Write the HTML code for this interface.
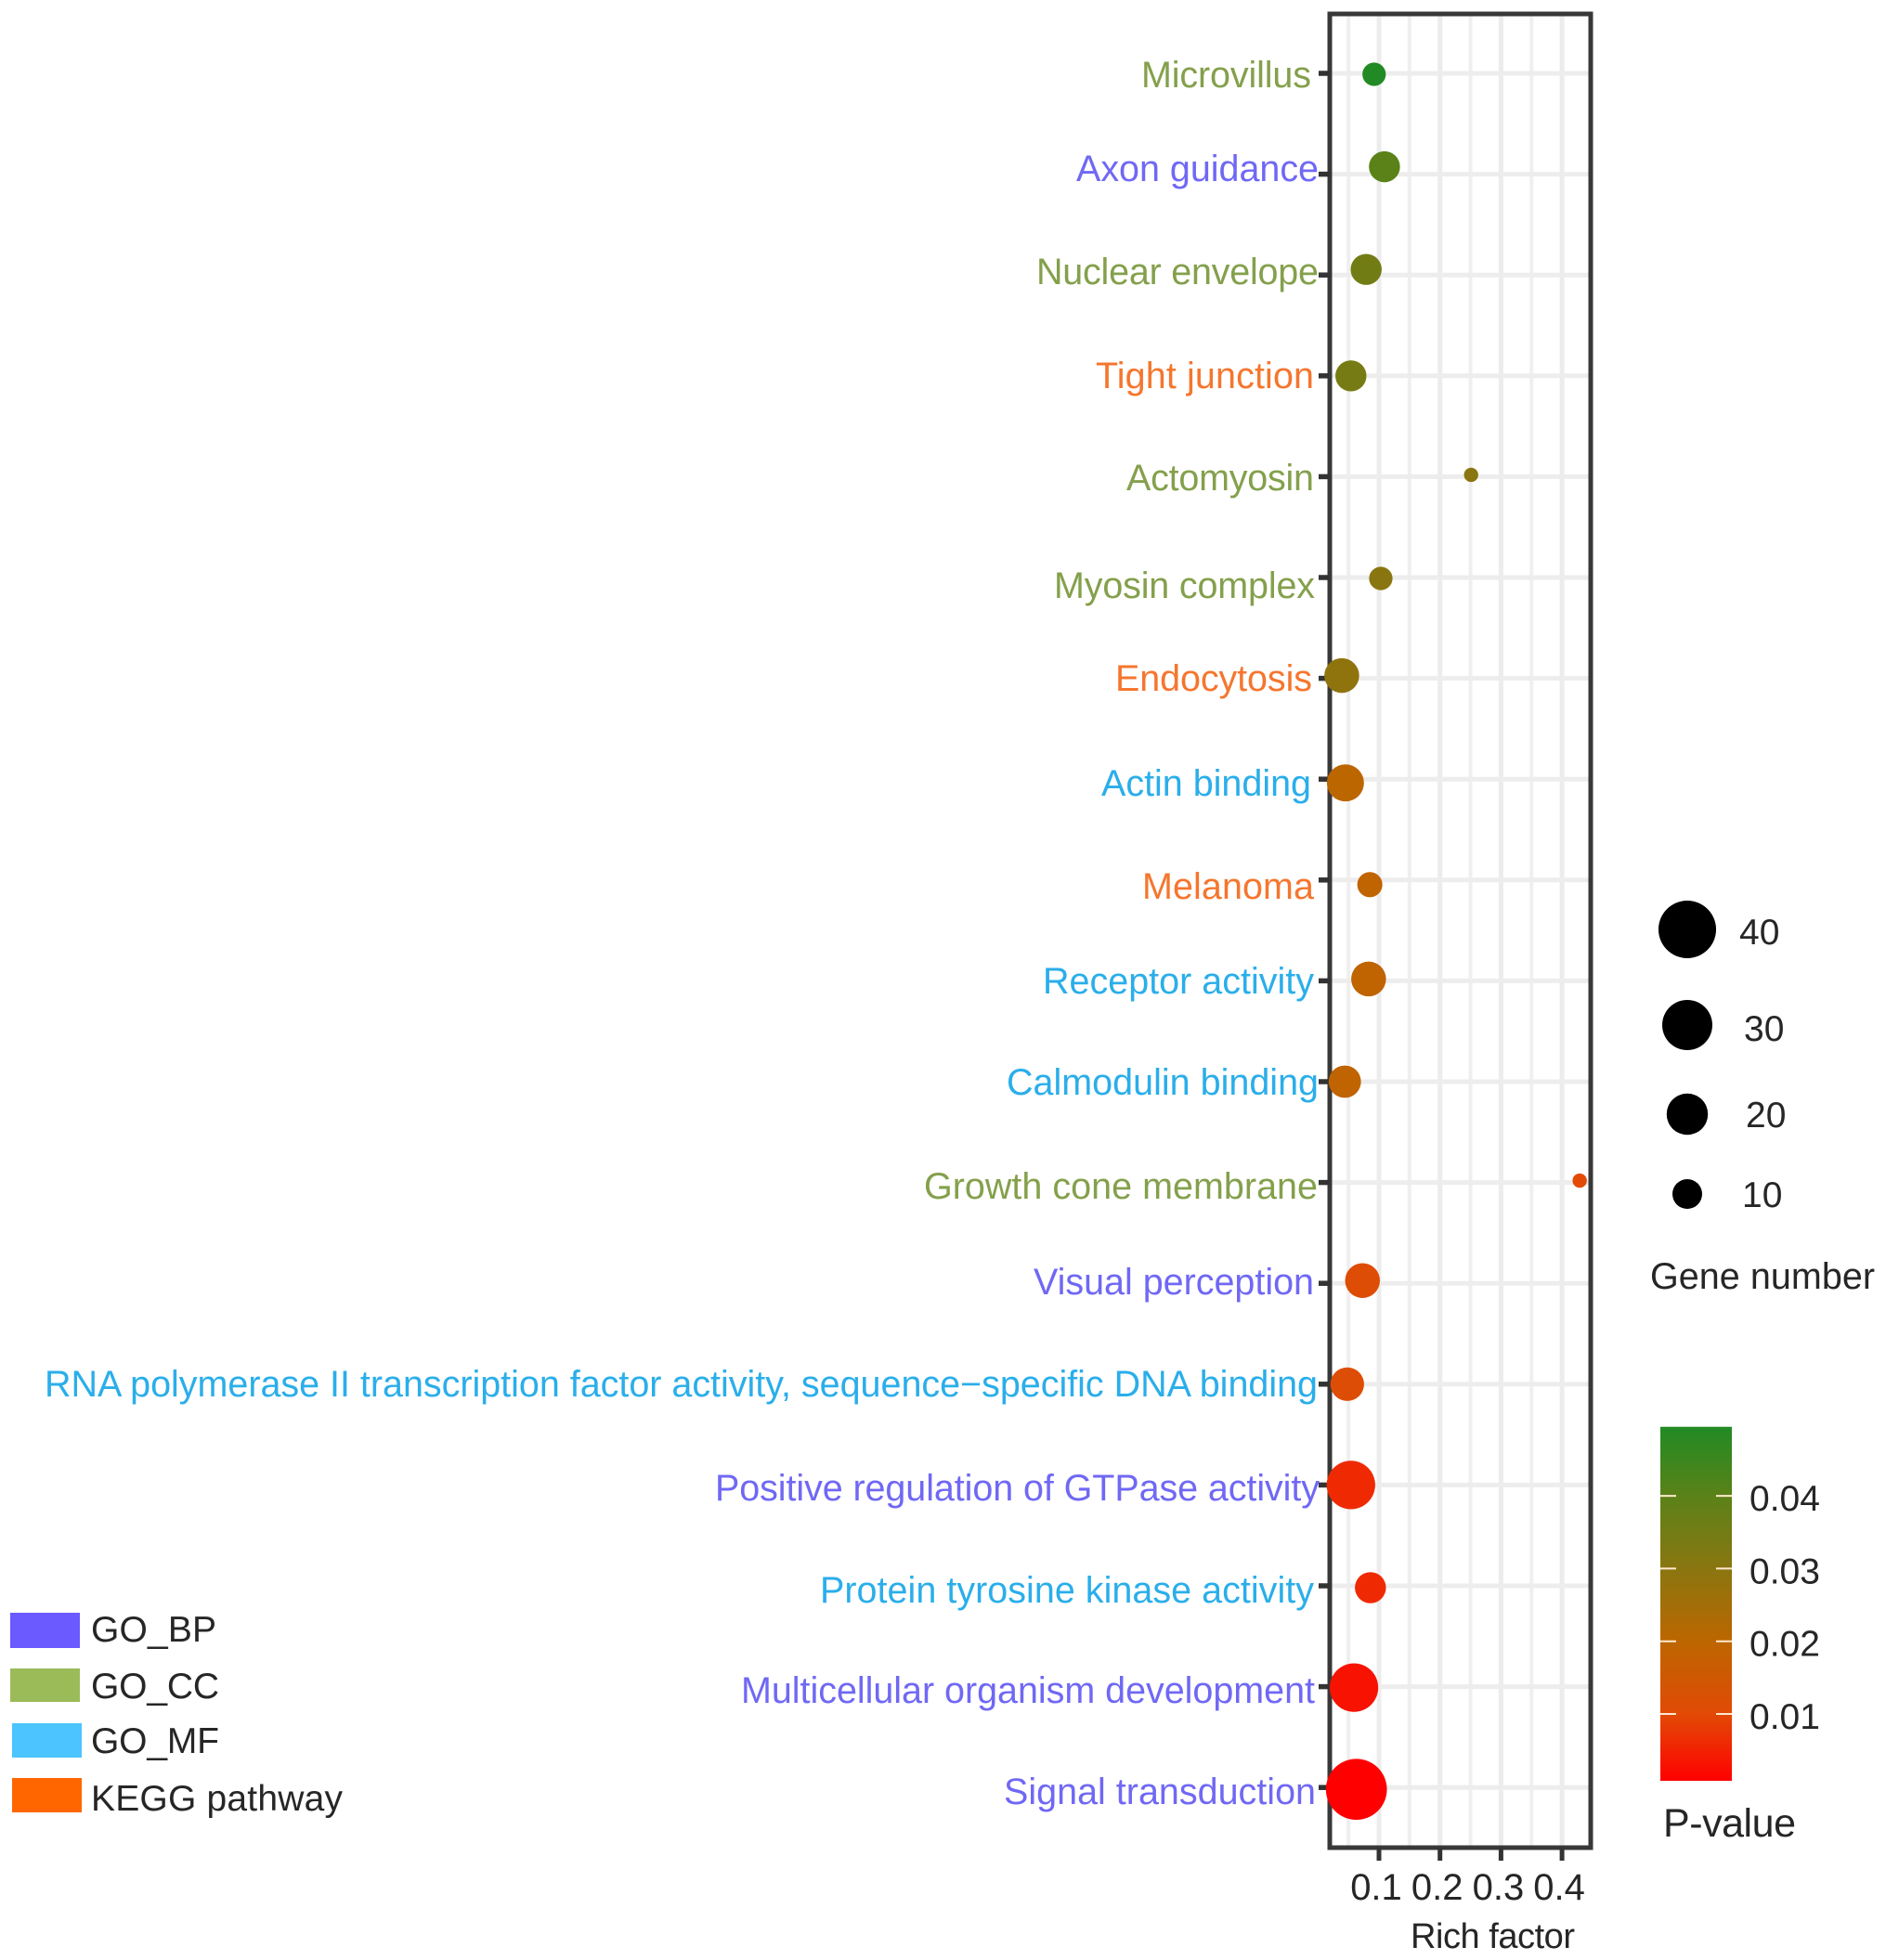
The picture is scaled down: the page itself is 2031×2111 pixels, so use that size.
<!DOCTYPE html>
<html lang="en">
<head>
<meta charset="utf-8">
<title>Rich factor bubble chart</title>
<style>
html,body{margin:0;padding:0;background:#fff;width:2031px;height:2111px;overflow:hidden}
svg{display:block}
text{font-family:"Liberation Sans",sans-serif;fill:#262626}
</style>
</head>
<body>
<svg id="chart" xmlns="http://www.w3.org/2000/svg" width="2031" height="2111" viewBox="0 0 2031 2111">
  <defs>
    <linearGradient id="pvalue-gradient" x1="0" y1="1" x2="0" y2="0"></linearGradient>
  </defs>
  <g id="grid"></g>
  <g id="axes"></g>
  <g id="points"></g>
  <g id="size-legend"></g>
  <g id="color-legend"></g>
  <g id="category-legend"></g>
</svg>
<script>
// ---- chart data ----
const categories = ["Microvillus","Axon guidance","Nuclear envelope","Tight junction","Actomyosin","Myosin complex","Endocytosis","Actin binding","Melanoma","Receptor activity","Calmodulin binding","Growth cone membrane","Visual perception","RNA polymerase II transcription factor activity, sequence\u2212specific DNA binding","Positive regulation of GTPase activity","Protein tyrosine kinase activity","Multicellular organism development","Signal transduction"];
const categoryGroups = ["GO_CC","GO_BP","GO_CC","KEGG pathway","GO_CC","GO_CC","KEGG pathway","GO_MF","KEGG pathway","GO_MF","GO_MF","GO_CC","GO_BP","GO_MF","GO_BP","GO_MF","GO_BP","GO_BP"];
const richFactor = [0.092,0.109,0.079,0.054,0.251,0.103,0.039,0.045,0.085,0.083,0.044,0.429,0.073,0.048,0.054,0.086,0.059,0.063];
const geneNumber = [6,11,11,11,2,6,14,16,7,14,12,2,14,13,28,11,28,45];
const pValue = [0.0495,0.04,0.035,0.034,0.03,0.03,0.029,0.02,0.019,0.019,0.019,0.01,0.011,0.011,0.006,0.006,0.003,0.0008];
const xTicks = [0.1,0.2,0.3,0.4];
const xMinorTicks = [0.05,0.15,0.25,0.35,0.45];
const sizeLegendValues = [40,30,20,10];
const pTicks = [0.04,0.03,0.02,0.01];
const pGradientValues = [0.0008,0.01,0.02,0.03,0.04,0.0495];
const pGradientColors = ["#ff0000","#e24a05","#bc6600","#8a7610","#5a8218","#218a24"];
const groupNames = ["GO_BP","GO_CC","GO_MF","KEGG pathway"];
const groupTextColors = ["#7068f4","#84a04c","#2aaeea","#f5762e"];
const groupSwatchColors = ["#6a5aff","#9bbb59","#4bc4ff","#ff6600"];

// ---- hand-placement offsets seen in the figure (layout, not data) ----
const pointNudgeY = [1,-8,-6,0,-2,1,-3,4,5,-2,0,-2,-3,0,0,2,1,2];
const labelLeft = [1229,1159,1116,1180,1213,1135,1201,1186,1230,1123,1084,995,1113,48,770,883,798,1081];
const labelRight = [1412,1420,1420,1415,1415,1416,1413,1412,1415,1415,1420,1419,1415,1419,1421,1415,1416,1417];
const labelBaseline = [94,195,306,418,528,644,744,857,968,1070,1179,1291,1394,1504,1616,1726,1834,1943];
const sizeLegendCY = [1001,1104,1200,1286];
const sizeLegendLabelX = [1873,1878,1880,1876];
const sizeLegendBaseline = [1017,1121,1214,1300];
const groupSwatchBox = [[11,1737,75,38],[11,1797,75,36],[13,1856,75,37],[13,1915,75,37]];
const groupLabelBaseline = [1768,1829,1888,1950];
const groupLabelWidth = [135,138,138,271];

// ---- scales ----
const plot = {left:1432, right:1713, top:15, bottom:1990};
function xScale(v){ return 1485 + (v - 0.1) * 657; }
function rowY(i){ return 79 + 108.6 * i; }
function sizeScale(n){ return 16 + (Math.sqrt(n) - Math.sqrt(10)) * 4.75; }
function pScale(p){ return 1846 - (p - 0.01) * 7830; }
function hexToRgb(h){ return [1,3,5].map(function(k){ return parseInt(h.substr(k,2),16); }); }
function colorScale(p){
  const last = pGradientValues.length - 1;
  if (p <= pGradientValues[0]) return pGradientColors[0];
  if (p >= pGradientValues[last]) return pGradientColors[last];
  let k = 0;
  while (p > pGradientValues[k + 1]) k++;
  const t = (p - pGradientValues[k]) / (pGradientValues[k + 1] - pGradientValues[k]);
  const a = hexToRgb(pGradientColors[k]), b = hexToRgb(pGradientColors[k + 1]);
  return "rgb(" + a.map(function(c, j){ return Math.round(c + (b[j] - c) * t); }).join(",") + ")";
}
const NS = "http://www.w3.org/2000/svg";
function make(parent, tag, props, txt){
  const e = document.createElementNS(NS, tag);
  for (const k in props) e.setAttribute(k, props[k]);
  if (txt !== undefined) e.textContent = txt;
  parent.appendChild(e);
  return e;
}
const gGrid = document.getElementById("grid");
const gAxes = document.getElementById("axes");
const gPoints = document.getElementById("points");
const gSize = document.getElementById("size-legend");
const gColor = document.getElementById("color-legend");
const gCat = document.getElementById("category-legend");

// ---- grid ----
xMinorTicks.forEach(function(v){
  if (xScale(v) >= plot.right) return;
  const l = make(gGrid, "line", {x1:xScale(v), x2:xScale(v), y1:plot.top, y2:plot.bottom, stroke:"#efefef", "stroke-width":4});
  
  
});
xTicks.forEach(function(v){
  const l = make(gGrid, "line", {x1:xScale(v), x2:xScale(v), y1:plot.top, y2:plot.bottom, stroke:"#ececec", "stroke-width":5});
  
  
});
categories.forEach(function(c, i){
  const l = make(gGrid, "line", {x1:plot.left, x2:plot.right, y1:rowY(i), y2:rowY(i), stroke:"#ededed", "stroke-width":5});
  
  
});

// ---- frame ----
const frame = make(gAxes, "rect", {x:plot.left, y:plot.top, width:plot.right - plot.left, height:plot.bottom - plot.top, fill:"none", stroke:"#383838", "stroke-width":5});



// ---- x axis ----
xTicks.forEach(function(v){
  const t = make(gAxes, "line", {x1:xScale(v), x2:xScale(v), y1:plot.bottom, y2:2004, stroke:"#333", "stroke-width":5});
  
  
  const lab = make(gAxes, "text", {x:xScale(v) - 3, y:2046, "font-size":40, "text-anchor":"middle"}, v.toFixed(1));
  
  
});
const xTitle = make(gAxes, "text", {x:1519, y:2098, "font-size":38, textLength:177}, "Rich factor");



// ---- y axis ----
categories.forEach(function(c, i){
  const t = make(gAxes, "line", {x1:1420, x2:plot.left, y1:rowY(i), y2:rowY(i), stroke:"#333", "stroke-width":5.5});
  
  
  const color = groupTextColors[groupNames.indexOf(categoryGroups[i])];
  const lab = make(gAxes, "text", {x:labelLeft[i], y:labelBaseline[i], "font-size":39.5, textLength:labelRight[i] - labelLeft[i], style:"fill:" + color}, c);
  
  
});

// ---- points ----
categories.forEach(function(c, i){
  const p = make(gPoints, "circle", {cx:xScale(richFactor[i]), cy:rowY(i) + pointNudgeY[i], r:sizeScale(geneNumber[i]), fill:colorScale(pValue[i])});
  
  
});

// ---- size legend ----
sizeLegendValues.forEach(function(v, i){
  const c = make(gSize, "circle", {cx:1817, cy:sizeLegendCY[i], r:sizeScale(v), fill:"#000"});
  
  
  const t = make(gSize, "text", {x:sizeLegendLabelX[i], y:sizeLegendBaseline[i], "font-size":39}, String(v));
  
  
});
const sizeTitle = make(gSize, "text", {x:1777, y:1388, "font-size":39.5, textLength:242}, "Gene number");



// ---- colour bar ----
const grad = document.getElementById("pvalue-gradient");
pGradientValues.forEach(function(v, i){
  make(grad, "stop", {offset:(v - pGradientValues[0]) / (pGradientValues[pGradientValues.length - 1] - pGradientValues[0]), "stop-color":pGradientColors[i]});
});
const barTop = pScale(pGradientValues[pGradientValues.length - 1]);
const barBottom = pScale(pGradientValues[0]);
const bar = make(gColor, "rect", {x:1788, y:barTop, width:77, height:barBottom - barTop, fill:"url(#pvalue-gradient)"});


pTicks.forEach(function(v){
  const a = make(gColor, "line", {x1:1788, x2:1805, y1:pScale(v), y2:pScale(v), stroke:"#ffe9d0", "stroke-width":2});
  
  
  const b = make(gColor, "line", {x1:1848, x2:1865, y1:pScale(v), y2:pScale(v), stroke:"#ffe9d0", "stroke-width":2});
  
  
  const t = make(gColor, "text", {x:1884, y:pScale(v) + 16, "font-size":39}, v.toFixed(2));
  
  
});
const colorTitle = make(gColor, "text", {x:1791, y:1978, "font-size":43, textLength:143}, "P-value");



// ---- category legend ----
groupNames.forEach(function(g, i){
  const b = groupSwatchBox[i];
  const s = make(gCat, "rect", {x:b[0], y:b[1], width:b[2], height:b[3], fill:groupSwatchColors[i]});
  
  
  const t = make(gCat, "text", {x:98, y:groupLabelBaseline[i], "font-size":39, textLength:groupLabelWidth[i]}, g);
  
  
});
</script>
</body>
</html>
